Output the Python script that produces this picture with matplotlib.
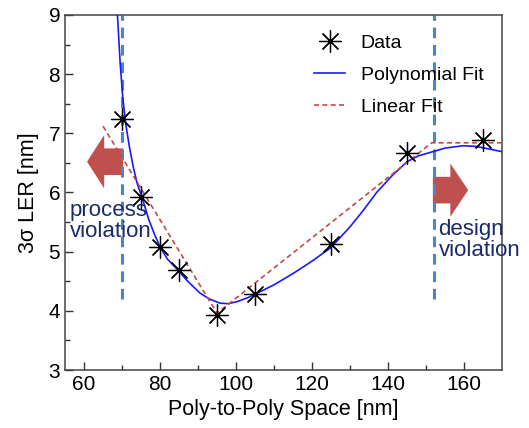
import matplotlib
matplotlib.use("Agg")
import matplotlib.pyplot as plt
from matplotlib.patches import FancyArrow

plt.rcParams['font.family'] = ['Liberation Sans', 'DejaVu Sans']

# Measured data
data_x = [70, 75, 80, 85, 95, 105, 125, 145, 165]
data_y = [7.25, 5.93, 5.08, 4.69, 3.93, 4.28, 5.13, 6.67, 6.89]

# Polynomial fit curve
poly_x = [68.8, 69.5, 70.2, 71, 72, 73, 74, 75.5, 77, 78.5, 80, 82, 84.7, 87, 90.5, 93, 95.8,
          98, 100.5, 103, 105, 110, 115, 120, 125, 130, 133.4, 137, 141, 145, 148, 151.8,
          155, 159.7, 163, 167, 170]
poly_y = [9.0, 8.2, 7.6, 7.15, 6.75, 6.42, 6.15, 5.87, 5.55, 5.3, 5.08, 4.87, 4.69, 4.52, 4.30,
          4.2, 4.13, 4.12, 4.16, 4.22, 4.28, 4.44, 4.63, 4.84, 5.07, 5.42, 5.69, 6.0, 6.28,
          6.52, 6.62, 6.69, 6.75, 6.79, 6.78, 6.73, 6.69]

# Linear (piecewise) fit
lin_x = [65, 95, 151.5, 170]
lin_y = [7.12, 3.96, 6.84, 6.84]

# Boundary lines
bound_x = [70, 152]
bound_ymin, bound_ymax = 4.2, 9.0

fig = plt.figure(figsize=(5.29, 4.28), dpi=100)
ax = fig.add_axes([0.1229, 0.1355, 0.8261, 0.8295])

red = '#c0504d'
navy = '#1b2a6b'

# arrows
ax.add_patch(FancyArrow(70.3, 6.52, -9.5, 0, width=0.45, head_width=0.9, head_length=4.5,
                        length_includes_head=True, color=red, lw=0, zorder=1))
ax.add_patch(FancyArrow(151.8, 6.04, 9.3, 0, width=0.45, head_width=0.9, head_length=4.7,
                        length_includes_head=True, color=red, lw=0, zorder=1))

for bx in bound_x:
    ax.plot([bx, bx], [bound_ymin, bound_ymax], color='#4a86c5', lw=2.2,
            linestyle=(0, (3.5, 2.2)), zorder=2)

ax.plot(data_x, data_y, linestyle='none', marker=(8, 2, 0), markersize=16,
        markeredgewidth=0.9, color='black', label='Data', zorder=5)
ax.plot(poly_x, poly_y, color='#1a1aff', lw=1.2, label='Polynomial Fit', zorder=3)
ax.plot(lin_x, lin_y, color='#c8484a', lw=1.2, linestyle=(0, (3, 2)), label='Linear Fit', zorder=4)

ax.text(56.3, 5.88, 'process\nviolation', color=navy, fontsize=16, va='top', ha='left',
        linespacing=1.0, zorder=6)
ax.text(153.3, 5.55, 'design\nviolation', color=navy, fontsize=16, va='top', ha='left',
        linespacing=1.0, zorder=6)

ax.set_xlim(55, 170)
ax.set_ylim(3, 9)
ax.set_xticks([60, 80, 100, 120, 140, 160])
ax.set_xticks([70, 90, 110, 130, 150], minor=True)
ax.set_yticks([3, 4, 5, 6, 7, 8, 9])
ax.set_yticks([3.5, 4.5, 5.5, 6.5, 7.5, 8.5], minor=True)
ax.tick_params(which='both', direction='in', top=False, right=False, labelsize=15, color='#333333')
ax.tick_params(which='major', length=6, width=1)
ax.tick_params(which='minor', length=3.5, width=1)
for s in ax.spines.values():
    s.set_color('#444444')
    s.set_linewidth(1.1)

ax.set_xlabel('Poly-to-Poly Space [nm]', fontsize=15.5, labelpad=4)
ax.set_ylabel('3σ LER [nm]', fontsize=15.5, labelpad=7)

leg = ax.legend(loc='upper left', bbox_to_anchor=(0.53, 0.995), frameon=False, fontsize=14,
                handlelength=1.6, handletextpad=0.8, labelspacing=0.75)

fig.savefig('out.png', dpi=100)
